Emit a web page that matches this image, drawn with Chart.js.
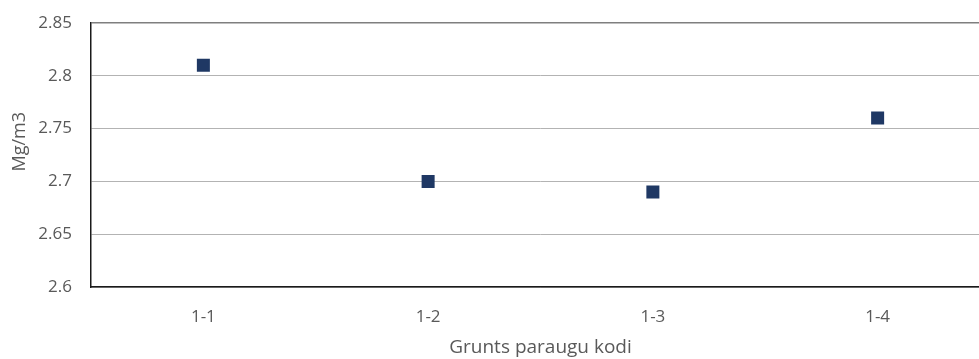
<!DOCTYPE html>
<html><head><meta charset="utf-8">
<script src="https://cdn.jsdelivr.net/npm/chart.js@4/dist/chart.umd.min.js"></script>
<style>html,body{margin:0;padding:0;background:#fff;overflow:hidden}#wrap{width:1000px;height:359px}</style>
</head><body><div id="wrap"><canvas id="c" width="1000" height="359"></canvas></div>
<script>
const categories = ['1-1', '1-2', '1-3', '1-4'];
const values = [2.81, 2.70, 2.69, 2.76];
const yTitle = 'Mg/m3';
const xTitle = 'Grunts paraugu kodi';
const yMin = 2.6, yMax = 2.85, yStep = 0.05;

const textColor = '#595959';
const fontFamily = '"Open Sans", sans-serif';

// Draws the y-axis title rotated, centred where the reference places it
const yTitlePlugin = {
  id: 'yTitlePlugin',
  afterDraw(chart) {
    const { ctx, chartArea } = chart;
    const cx = 20;
    const cy = chartArea.top + (chartArea.bottom - chartArea.top) * 0.45;
    ctx.save();
    ctx.translate(cx, cy);
    ctx.rotate(-Math.PI / 2);
    ctx.fillStyle = textColor;
    ctx.font = '18px ' + fontFamily;
    ctx.textAlign = 'center';
    ctx.textBaseline = 'middle';
    ctx.fillText(yTitle, 0, 0);
    ctx.restore();
  }
};

new Chart(document.getElementById('c'), {
  type: 'line',
  data: {
    labels: categories,
    datasets: [{
      data: values,
      showLine: false,
      pointStyle: 'rect',
      pointRadius: 9.2,
      pointHoverRadius: 9.2,
      backgroundColor: '#1f3864',
      borderColor: '#1f3864',
      pointBorderWidth: 0
    }]
  },
  plugins: [yTitlePlugin],
  options: {
    responsive: false,
    animation: false,
    events: [],
    layout: { padding: { top: 23, right: 10, left: 0, bottom: 0 } },
    plugins: { legend: { display: false }, tooltip: { enabled: false } },
    scales: {
      x: {
        offset: true,
        grid: { display: false, drawTicks: false },
        border: { display: true, color: '#1a1a1a', width: 1.5 },
        ticks: { color: textColor, font: { family: fontFamily, size: 17 }, padding: 20 },
        title: { display: true, text: xTitle, color: textColor, font: { family: fontFamily, size: 19 }, padding: { top: 8, bottom: 0 } },
        afterFit: s => { s.height = 72; s.paddingLeft = 0; s.paddingRight = 0; }
      },
      y: {
        min: yMin, max: yMax,
        grid: {
          drawTicks: false,
          color: ctx => (ctx.tick && Math.abs(ctx.tick.value - yMax) < 1e-9) ? '#7f7f7f' : '#b3b3b3',
          lineWidth: ctx => (ctx.tick && Math.abs(ctx.tick.value - yMax) < 1e-9) ? 1.5 : 1
        },
        border: { display: true, color: '#1a1a1a', width: 1.5 },
        ticks: {
          stepSize: yStep, color: textColor, font: { family: fontFamily, size: 17 }, padding: 19,
          callback: v => String(Math.round(v * 100) / 100)
        },
        title: { display: false },
        afterFit: s => { s.width = 91; s.paddingTop = 0; s.paddingBottom = 0; }
      }
    }
  }
});
</script></body></html>
